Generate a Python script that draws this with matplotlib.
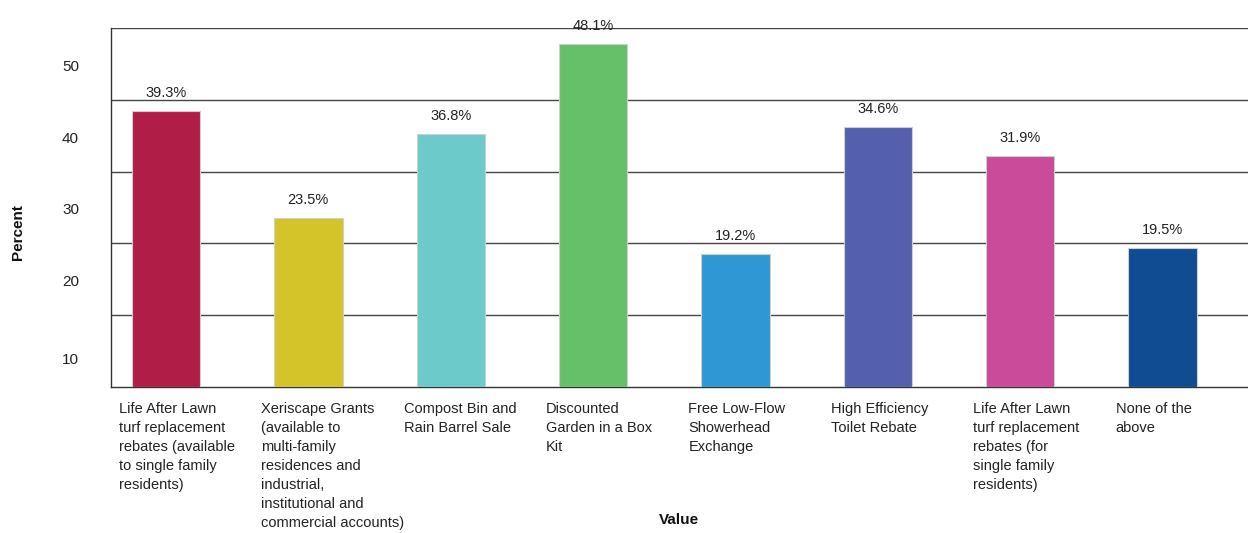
import matplotlib.pyplot as plt

plt.rcParams['font.family'] = ['Liberation Sans', 'DejaVu Sans']

categories = [
    "Life After Lawn\nturf replacement\nrebates (available\nto single family\nresidents)",
    "Xeriscape Grants\n(available to\nmulti-family\nresidences and\nindustrial,\ninstitutional and\ncommercial accounts)",
    "Compost Bin and\nRain Barrel Sale",
    "Discounted\nGarden in a Box\nKit",
    "Free Low-Flow\nShowerhead\nExchange",
    "High Efficiency\nToilet Rebate",
    "Life After Lawn\nturf replacement\nrebates (for\nsingle family\nresidents)",
    "None of the\nabove",
]
# percent shown above each bar
percent = [39.3, 23.5, 36.8, 48.1, 19.2, 34.6, 31.9, 19.5]
# bar heights as drawn in the picture (they don't quite follow the labels)
bar_heights = [38.4, 23.5, 35.2, 47.8, 18.5, 36.2, 32.2, 19.4]
colors = ["#b01e48", "#d4c42a", "#6ccaca", "#66c06a",
          "#2f97d4", "#5460ad", "#c94b9a", "#0f4c91"]
ytick_text = ["10", "20", "30", "40", "50"]

fig = plt.figure(figsize=(12.48, 5.33), dpi=100)
ax = fig.add_axes([111 / 1248, 1 - 387 / 533, 1 - 111 / 1248, (387 - 28) / 533])

x = range(len(categories))
bars = ax.bar(x, bar_heights, width=0.48, color=colors,
              edgecolor="#cfcfcf", linewidth=0.8, zorder=3)

for b, p in zip(bars, percent):
    ax.annotate(f"{p}%", (b.get_x() + b.get_width() / 2, b.get_height()),
                xytext=(0, 13), textcoords="offset points",
                ha="center", va="center", fontsize=10.5, color="#222222")

# category labels, left aligned under each bar
for i, lab in enumerate(categories):
    ax.annotate(lab, (i - 0.33, 0), xycoords=("data", "axes fraction"),
                xytext=(0, -11), textcoords="offset points",
                ha="left", va="top", fontsize=10.5, color="#222222",
                linespacing=1.45)

ax.set_xlim(-0.386, 7.6)
ax.set_ylim(0, 50)
ax.set_xticks([])

# grid lines on the tens, labels sit lower (as in the original)
ax.set_yticks([10, 20, 30, 40, 50], minor=True)
ax.grid(which="minor", axis="y", color="#444444", linewidth=1, zorder=0)
ax.set_yticks([4.0, 14.9, 24.9, 34.8, 44.8])
ax.set_yticklabels(ytick_text)
ax.tick_params(axis="y", which="both", length=0, pad=23,
               labelsize=11, labelcolor="#222222")

for s in ["top", "right"]:
    ax.spines[s].set_visible(False)
for s in ["left", "bottom"]:
    ax.spines[s].set_color("#333333")
    ax.spines[s].set_linewidth(1)

fig.text(18 / 1248, 1 - 232 / 533, "Percent", rotation=90, fontsize=11,
         fontweight="bold", ha="center", va="center", color="#111111")
fig.text(679 / 1248, 1 - 520 / 533, "Value", fontsize=11,
         fontweight="bold", ha="center", va="center", color="#111111")

fig.savefig("out.png", dpi=100)
